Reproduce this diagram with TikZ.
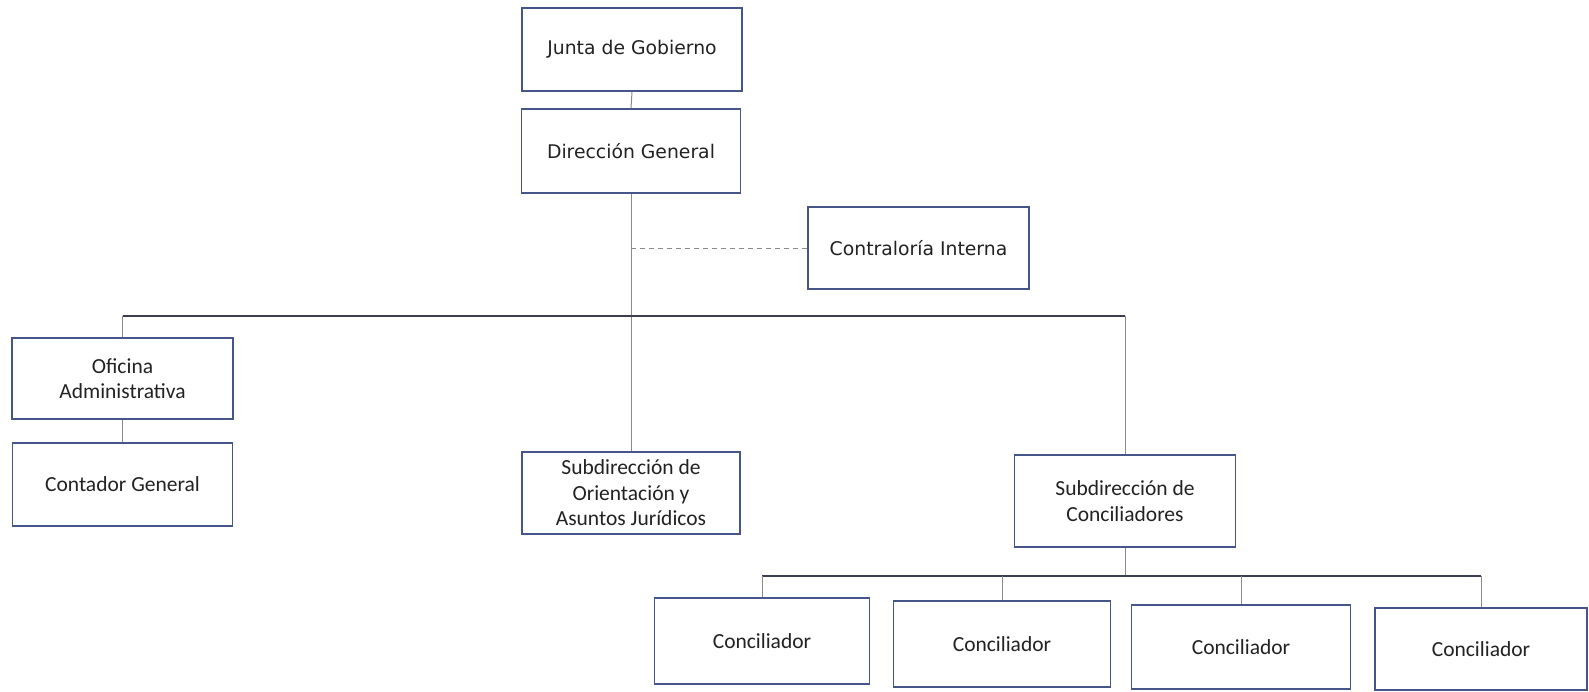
\documentclass[tikz,border=0pt]{standalone}
\usepackage{fontspec}
\setmainfont{Carlito}
\newfontfamily\tahomalike{DejaVu Sans}
\begin{document}
\begin{tikzpicture}[x=1pt,y=-1pt,
  box/.style={draw=boxcol, line width=1.6pt, rectangle, align=center, text=textcol,
    font=\fontsize{21.5}{25.5}\selectfont, inner sep=0pt},
  topbox/.style={box, font=\tahomalike\fontsize{18.8}{22}\selectfont},
  conn/.style={draw=conncol, line width=1pt},
  bar/.style={draw=barcol, line width=1.4pt}]
\definecolor{boxcol}{HTML}{46568A}
\definecolor{conncol}{HTML}{8A8A8A}
\definecolor{barcol}{HTML}{3A3F50}
\definecolor{textcol}{HTML}{222222}
\useasboundingbox (0,0) rectangle (1589,691);
\fill[white] (0,0) rectangle (1589,691);

\node[topbox, minimum width=220pt, minimum height=83pt] (junta) at (632,49.5) {Junta de Gobierno};
\node[topbox, minimum width=219pt, minimum height=84pt] (dg) at (631,151) {Dirección General};
\node[topbox, minimum width=221pt, minimum height=82pt] (contra) at (918.5,248) {Contraloría Interna};
\node[box, minimum width=221pt, minimum height=81pt] (ofi) at (122.5,378.5) {Oficina\\Administrativa};
\node[box, minimum width=220pt, minimum height=83pt] (conta) at (122.5,484.5) {Contador General};
\node[box, minimum width=218pt, minimum height=82pt] (subori) at (631,493) {Subdirección de\\Orientación y\\Asuntos Jurídicos};
\node[box, minimum width=221pt, minimum height=92pt] (subcon) at (1125,501) {Subdirección de\\Conciliadores};
\node[box, minimum width=215pt, minimum height=86pt] (c1) at (762,641) {Conciliador};
\node[box, minimum width=217pt, minimum height=86pt] (c2) at (1002,644) {Conciliador};
\node[box, minimum width=219pt, minimum height=84pt] (c3) at (1241,647) {Conciliador};
\node[box, minimum width=212pt, minimum height=82pt] (c4) at (1481,649) {Conciliador};

\coordinate (hl) at (ofi.north |- 0,316);
\coordinate (hr) at (subcon.north |- 0,316);
\coordinate (dash) at (dg.south |- contra.west);
\coordinate (cl) at (c1.north |- 0,576);
\coordinate (cr) at (c4.north |- 0,576);
\coordinate (cm) at (subcon.south |- 0,576);

\draw[conn] (junta.south) -- (dg.north);
\draw[conn] (dg.south) -- (dg.south |- subori.north);
\draw[conn, dashed, dash pattern=on 5pt off 4pt] (dash) -- (contra.west);
\draw[bar] (hl) -- (hr);
\draw[conn] (hl) -- (ofi.north);
\draw[conn] (hr) -- (subcon.north);
\draw[conn] (ofi.south) -- (conta.north);
\draw[conn] (subcon.south) -- (cm);
\draw[bar] (cl) -- (cr);
\foreach \c in {c1,c2,c3,c4} \draw[conn] (\c.north |- cl) -- (\c.north);
\end{tikzpicture}
\end{document}
